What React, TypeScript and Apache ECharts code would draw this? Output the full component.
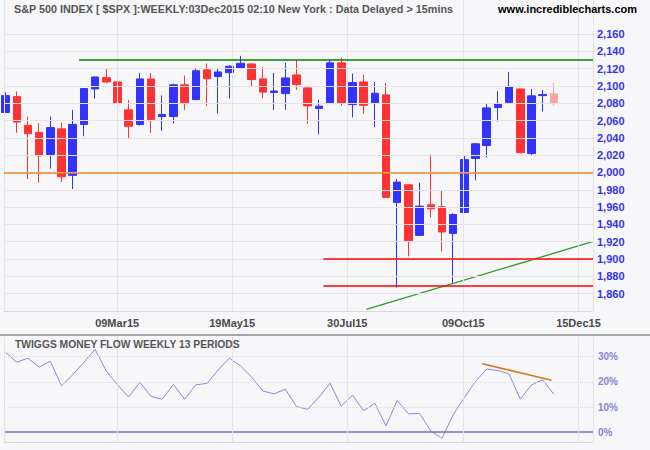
import { useEffect, useRef } from "react";
import * as echarts from "echarts";

// ---------- data ----------
const weeks = [
  "26Dec14", "02Jan15", "09Jan15", "16Jan15", "23Jan15", "30Jan15", "06Feb15", "13Feb15", "20Feb15", "27Feb15",
  "06Mar15", "13Mar15", "20Mar15", "27Mar15", "03Apr15", "10Apr15", "17Apr15", "24Apr15", "01May15", "08May15",
  "15May15", "22May15", "29May15", "05Jun15", "12Jun15", "19Jun15", "26Jun15", "03Jul15", "10Jul15", "17Jul15",
  "24Jul15", "31Jul15", "07Aug15", "14Aug15", "21Aug15", "28Aug15", "04Sep15", "11Sep15", "18Sep15", "25Sep15",
  "02Oct15", "09Oct15", "16Oct15", "23Oct15", "30Oct15", "06Nov15", "13Nov15", "20Nov15", "27Nov15", "04Dec15",
];
const futureWeeks = ["11Dec15", "18Dec15", "25Dec15"];

const opens = [
  2069.3, 2087.6, 2054.5, 2046.1, 2020.8, 2050.4, 1996.7, 2055.5, 2096.5, 2109.5,
  2104.6, 2072.3, 2055.4, 2108.0, 2064.6, 2064.6, 2101.2, 2084.2, 2118.5, 2110.8,
  2115.3, 2120.8, 2125.4, 2108.1, 2092.3, 2091.1, 2112.7, 2097.7, 2073.9, 2079.6,
  2126.6, 2078.4, 2104.6, 2080.7, 2089.6, 1965.4, 1985.8, 1927.3, 1962.7, 1960.4,
  1929.6, 1953.8, 2016.1, 2031.1, 2075.0, 2080.7, 2096.5, 2021.9, 2088.8, 2090.8,
];
const closes = [
  2088.8, 2058.2, 2044.8, 2019.4, 2051.8, 1995.0, 2055.5, 2097.0, 2110.3, 2104.5,
  2079.6, 2053.4, 2108.1, 2061.0, 2067.0, 2101.2, 2080.7, 2117.5, 2108.3, 2116.1,
  2122.7, 2126.1, 2107.4, 2092.8, 2094.1, 2109.2, 2101.5, 2076.8, 2076.6, 2126.6,
  2079.7, 2103.8, 2077.6, 2091.5, 1971.0, 1988.9, 1921.2, 1961.1, 1958.0, 1931.3,
  1951.4, 2014.9, 2033.1, 2074.6, 2079.2, 2098.8, 2023.0, 2088.5, 2090.0, 2079.6,
];
const lows = [
  2069.3, 2046.0, 1992.4, 1988.1, 2004.5, 1989.2, 1980.9, 2041.9, 2085.4, 2103.0,
  2066.4, 2039.7, 2054.0, 2045.5, 2048.4, 2056.5, 2072.5, 2084.1, 2077.0, 2068.0,
  2085.4, 2119.6, 2099.0, 2085.7, 2072.1, 2072.5, 2095.6, 2056.3, 2044.0, 2079.6,
  2077.3, 2063.5, 2067.9, 2052.1, 1971.0, 1867.0, 1903.1, 1927.3, 1948.0, 1908.8,
  1871.9, 1953.8, 1990.8, 2017.3, 2058.8, 2080.7, 2021.9, 2019.6, 2070.4, 2077.3,
];
const highs = [
  2092.7, 2093.6, 2064.4, 2056.9, 2064.6, 2057.6, 2072.4, 2097.0, 2110.6, 2119.6,
  2117.5, 2083.5, 2114.9, 2114.9, 2089.0, 2102.6, 2111.9, 2120.9, 2125.9, 2120.8,
  2123.9, 2134.7, 2126.2, 2121.9, 2115.0, 2126.6, 2130.0, 2098.0, 2083.8, 2130.0,
  2132.8, 2114.2, 2112.7, 2104.6, 2103.5, 1992.7, 1985.8, 1988.1, 2020.9, 1979.0,
  1953.0, 2019.2, 2034.0, 2079.2, 2094.2, 2116.2, 2096.5, 2096.5, 2095.4, 2103.5,
];
// last bar is the incomplete (current) week
const partialIndex = 49;

// Twiggs Money Flow, weekly 13 periods (%)
const moneyFlow = [
  31.7, 27.8, 29.4, 25.8, 28.2, 18.4, 22.8, 27.8, 32.9, 24.3,
  18.8, 14.0, 19.8, 14.2, 13.1, 19.0, 13.1, 18.8, 19.4, 24.7,
  29.4, 26.3, 21.8, 16.4, 15.2, 17.1, 10.2, 9.1, 13.9, 19.4,
  10.3, 14.7, 8.5, 11.5, 2.5, 12.6, 7.3, 7.5, 0.5, -2.4,
  6.9, 13.8, 20.1, 25.1, 24.5, 23.1, 13.1, 18.8, 20.8, 15.1,
];

const priceTicks = [2160, 2140, 2120, 2100, 2080, 2060, 2040, 2020, 2000, 1980, 1960, 1940, 1920, 1900, 1880, 1860];
const mfTicks = [30, 20, 10];
const dateLabels = ["09Mar15", "19May15", "30Jul15", "09Oct15", "15Dec15"];
const datePositions = [9.97, 20.25, 30.54, 40.91, 51.2]; // in bar units

// drawn lines (bar index, value)
const resistanceLevel = 2130;
const resistanceFrom = 6.57;
const midLevel = 2000;
const supportLevels = [1900, 1869];
const supportFrom = 28.4;
const trendLine = [[32.24, 1842], [52.45, 1920]];
const mfTrendLine = [[42.6, 27.2], [48.8, 20.6]];

// ---------- styles ----------
const FONT = "'Liberation Sans', Arial, sans-serif";
const UP = "#3333ff";
const DOWN = "#ff3333";
const PARTIAL = "#f8a4a4";
const GRID = "#e3e3e8";
const X_MIN = -0.5;
const X_MAX = 52.5;
const LEFT_EDGE = -0.14;

function fmtPrice(v: number) {
  const s = String(Math.round(v));
  return s.slice(0, s.length - 3) + "," + s.slice(s.length - 3);
}

export default function App() {
  const ref = useRef<HTMLDivElement>(null);

  useEffect(() => {
    if (!ref.current) return;
    const chart = echarts.init(ref.current, undefined, { renderer: "svg" });

    const categories = weeks.concat(futureWeeks);
    const candleData = weeks.map((_, i) => {
      const item: any = { value: [opens[i], closes[i], lows[i], highs[i]] };
      if (i === partialIndex) {
        item.itemStyle = { color: PARTIAL, color0: PARTIAL, borderColor: PARTIAL, borderColor0: PARTIAL };
      }
      return item;
    });

    const seg = (x1: number, y1: number, x2: number, y2: number, style: any, extra: any = {}) => [
      { coord: [x1, y1], lineStyle: style, ...extra },
      { coord: [x2, y2] },
    ];

    const priceGridLines = [...priceTicks, 1840].map((v) =>
      seg(LEFT_EDGE, v, X_MAX, v, { color: v === 1840 ? "#d6d6dc" : GRID, width: 1, type: "solid" })
    );
    const vLinesUpper = [...datePositions, LEFT_EDGE, X_MAX].map((p) => ({
      xAxis: p,
      lineStyle: { color: GRID, width: 1, type: "solid" },
    }));

    const pctLabel = (text: string) => ({
      show: true,
      position: "end",
      distance: 5,
      formatter: text,
      fontFamily: FONT,
      fontSize: 10,
      fontWeight: "bold",
      color: "#8484d2",
    });

    const option: any = {
      animation: false,
      backgroundColor: "#f7f7f9",
      textStyle: { fontFamily: FONT },
      grid: [
        { left: 0, right: 57, top: 0, height: 311, outerBoundsMode: "none" },
        { left: 0, right: 57, top: 337, height: 105.3, outerBoundsMode: "none" },
      ],
      xAxis: [
        { type: "category", gridIndex: 0, data: categories, boundaryGap: true, show: false, position: "bottom" },
        {
          type: "value",
          gridIndex: 0,
          position: "bottom",
          min: X_MIN,
          max: X_MAX,
          axisLine: { show: false },
          axisTick: { show: false },
          splitLine: { show: false },
          axisLabel: {
            show: true,
            customValues: datePositions,
            margin: 6,
            fontFamily: FONT,
            fontSize: 11,
            fontWeight: "bold",
            color: "#4a4a4a",
            formatter: (v: number) => {
              const k = datePositions.findIndex((p) => Math.abs(p - v) < 0.01);
              return k >= 0 ? dateLabels[k] : "";
            },
          },
        },
        { type: "category", gridIndex: 1, data: categories, boundaryGap: true, show: false, position: "bottom" },
        { type: "value", gridIndex: 1, min: X_MIN, max: X_MAX, show: false, position: "bottom" },
      ],
      yAxis: [
        {
          type: "value",
          gridIndex: 0,
          position: "right",
          min: 1840,
          max: 2199.2,
          interval: 20,
          axisLine: { show: false },
          axisTick: { show: false },
          splitLine: { show: false },
          axisLabel: {
            margin: 4,
            fontFamily: FONT,
            fontSize: 11,
            fontWeight: "bold",
            color: "#3333ee",
            formatter: (v: number) => (v >= 1860 && v <= 2160 ? fmtPrice(v) : ""),
          },
        },
        { type: "value", gridIndex: 1, min: -4, max: 37.8, show: false },
      ],
      series: [
        {
          type: "line",
          name: "grid-upper",
          xAxisIndex: 1,
          yAxisIndex: 0,
          data: [[X_MIN, 1840]],
          showSymbol: false,
          symbol: "none",
          lineStyle: { opacity: 0 },
          silent: true,
          z: 1,
          markLine: {
            silent: true,
            symbol: ["none", "none"],
            label: { show: false },
            data: [...priceGridLines, ...vLinesUpper],
          },
        },
        {
          type: "candlestick",
          xAxisIndex: 0,
          yAxisIndex: 0,
          data: candleData,
          barWidth: 8,
          z: 3,
          itemStyle: {
            color: UP,
            color0: DOWN,
            borderColor: UP,
            borderColor0: DOWN,
            borderWidth: 1,
          },
        },
        {
          type: "line",
          name: "levels",
          xAxisIndex: 1,
          yAxisIndex: 0,
          data: trendLine,
          showSymbol: false,
          symbol: "none",
          lineStyle: { color: "#2f9a2f", width: 1.3 },
          silent: true,
          z: 4,
          markLine: {
            silent: true,
            symbol: ["none", "none"],
            label: { show: false },
            data: [
              seg(resistanceFrom, resistanceLevel, X_MAX, resistanceLevel, { color: "#008000", width: 1.5, type: "solid" }),
              seg(LEFT_EDGE, midLevel, X_MAX, midLevel, { color: "#ef8a2a", width: 1.5, type: "solid" }),
              ...supportLevels.map((v) =>
                seg(supportFrom, v, X_MAX, v, { color: "#ff0000", width: 1.5, type: "solid" })
              ),
            ],
          },
        },
        {
          type: "line",
          name: "grid-lower",
          xAxisIndex: 3,
          yAxisIndex: 1,
          data: [[X_MIN, 0]],
          showSymbol: false,
          symbol: "none",
          lineStyle: { opacity: 0 },
          silent: true,
          z: 1,
          markLine: {
            silent: true,
            symbol: ["none", "none"],
            label: { show: false },
            data: [
              ...mfTicks.map((v) =>
                seg(LEFT_EDGE, v, X_MAX, v, { color: "#dcdce2", width: 1, type: "dotted" }, { label: pctLabel(v + "%") })
              ),
              seg(LEFT_EDGE, 0, X_MAX, 0, { color: "#6e6ecb", width: 1.5, type: "solid" }, { label: pctLabel("0%") }),
              seg(LEFT_EDGE, -4, X_MAX, -4, { color: "#d6d6dc", width: 1, type: "solid" }),
              ...[...datePositions, LEFT_EDGE, X_MAX].map((p) => ({
                xAxis: p,
                lineStyle: { color: GRID, width: 1, type: "solid" },
              })),
            ],
          },
        },
        {
          type: "line",
          name: "money flow",
          xAxisIndex: 2,
          yAxisIndex: 1,
          data: moneyFlow,
          showSymbol: false,
          symbol: "none",
          lineStyle: { color: "#8a8ad6", width: 1 },
          silent: true,
          z: 3,
        },
        {
          type: "line",
          name: "mf trend",
          xAxisIndex: 3,
          yAxisIndex: 1,
          data: mfTrendLine,
          showSymbol: false,
          symbol: "none",
          lineStyle: { color: "#d07a1c", width: 1.5 },
          silent: true,
          z: 4,
        },
      ],
      graphic: [
        {
          type: "text",
          x: 14,
          y: 9,
          style: {
            text: "S&P 500 INDEX [ $SPX ]:WEEKLY:03Dec2015 02:10 New York : Data Delayed > 15mins",
            fontFamily: FONT,
            fontSize: 10.8,
            fontWeight: "bold",
            fill: "#555555",
            verticalAlign: "middle",
          },
          z: 10,
        },
        {
          type: "text",
          x: 637,
          y: 9,
          style: {
            text: "www.incrediblecharts.com",
            fontFamily: FONT,
            fontSize: 11,
            fontWeight: "bold",
            fill: "#000000",
            align: "right",
            verticalAlign: "middle",
          },
          z: 10,
        },
        {
          type: "line",
          shape: { x1: 0, y1: 335, x2: 650, y2: 335 },
          style: { stroke: "#a6a6a6", lineWidth: 2 },
          z: 10,
        },
        {
          type: "text",
          x: 15,
          y: 344,
          style: {
            text: "TWIGGS MONEY FLOW WEEKLY 13 PERIODS",
            fontFamily: FONT,
            fontSize: 10.3,
            fontWeight: "bold",
            fill: "#555555",
            verticalAlign: "middle",
          },
          z: 10,
        },
      ],
    };

    chart.setOption(option);
    return () => chart.dispose();
  }, []);

  return (
    <div
      ref={ref}
      style={{ position: "absolute", left: 0, top: 0, width: 650, height: 450, background: "#f7f7f9" }}
    />
  );
}
